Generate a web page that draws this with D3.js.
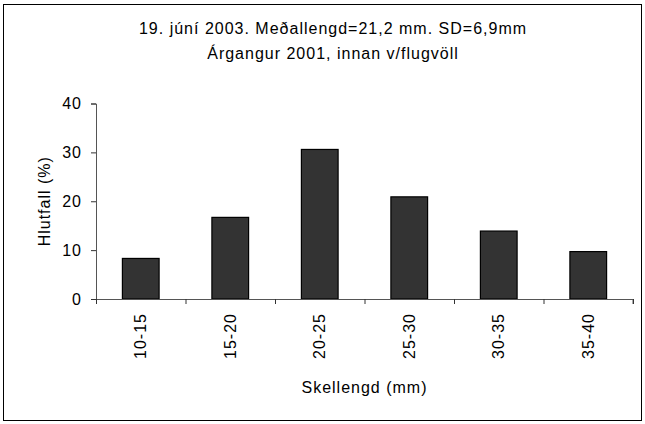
<!DOCTYPE html>
<html>
<head>
<meta charset="utf-8">
<script src="https://cdn.jsdelivr.net/npm/d3@7"></script>
<style>
  body { margin: 0; background: #fff; }
  text { font-family: "Liberation Sans", Arial, sans-serif; fill: #000; }
</style>
</head>
<body>
<div id="chart"></div>
<script>
(function () {
  'use strict';

  // data
  var categories = ['10-15', '15-20', '20-25', '25-30', '30-35', '35-40'];
  var values = [8.3, 16.7, 30.6, 20.9, 13.9, 9.7];
  var yTicks = [0, 10, 20, 30, 40];
  var titleLines = ['19. júní 2003. Meðallengd=21,2 mm. SD=6,9mm', 'Árgangur 2001, innan v/flugvöll'];
  var xTitle = 'Skellengd (mm)';
  var yTitle = 'Hlutfall (%)';

  var width = 645,
      height = 424,
      left = 96,
      right = 633,
      top = 103.5,
      bottom = 299,
      barShare = 0.41,
      fontSize = 16,
      spacing = 1;

  var svg = d3.select('#chart')
    .append('svg')
    .attr('width', width)
    .attr('height', height);

  // outer frame
  svg.append('rect')
    .attr('x', 3.5)
    .attr('y', 4.5)
    .attr('width', 638)
    .attr('height', 416)
    .attr('fill', 'none')
    .attr('stroke', '#000')
    .attr('stroke-width', 1);

  var x = d3.scaleBand()
    .domain(categories)
    .range([left, right])
    .padding(0);

  var y = d3.scaleLinear()
    .domain([0, 40])
    .range([bottom, top]);

  // title
  svg.selectAll('.title')
    .data(titleLines)
    .enter()
    .append('text')
    .attr('class', 'title')
    .attr('x', 333)
    .attr('y', function (d, i) { return 34 + i * 25; })
    .attr('text-anchor', 'middle')
    .style('font-size', fontSize + 'px')
    .style('letter-spacing', spacing + 'px')
    .text(function (d) { return d; });

  // bars
  svg.selectAll('.bar')
    .data(values)
    .enter()
    .append('rect')
    .attr('class', 'bar')
    .attr('x', function (d, i) { return x(categories[i]) + x.bandwidth() * (1 - barShare) / 2; })
    .attr('y', function (d) { return y(d); })
    .attr('width', x.bandwidth() * barShare)
    .attr('height', function (d) { return y(0) - y(d); })
    .attr('fill', '#333333')
    .attr('stroke', '#000')
    .attr('stroke-width', 1.2);

  // y axis
  var yAxis = svg.append('g')
    .attr('transform', 'translate(' + left + ',0)')
    .call(d3.axisLeft(y).tickValues(yTicks).tickSize(5).tickPadding(9));
  yAxis.select('.domain').attr('stroke', '#555');
  yAxis.selectAll('.tick line').attr('stroke', '#333');
  yAxis.selectAll('.tick text')
    .attr('font-family', null)
    .style('font-size', fontSize + 'px')
    .style('letter-spacing', spacing + 'px');

  // x axis: ticks sit on the band edges
  var xEdges = d3.scaleLinear().domain([0, categories.length]).range([left, right]);
  var xAxis = svg.append('g')
    .attr('transform', 'translate(0,' + bottom + ')')
    .call(d3.axisBottom(xEdges).tickValues(d3.range(categories.length + 1)).tickSize(5).tickFormat(''));
  xAxis.select('.domain').attr('stroke', '#555').attr('d', 'M' + left + ',0.5H' + right + 'V5');
  xAxis.selectAll('.tick line').attr('stroke', '#333');

  svg.append('g')
    .selectAll('text')
    .data(categories)
    .enter()
    .append('text')
    .attr('transform', function (d) {
      return 'translate(' + (x(d) + x.bandwidth() / 2) + ',' + (bottom + 14) + ') rotate(-90)';
    })
    .attr('dy', '0.35em')
    .attr('text-anchor', 'end')
    .style('font-size', fontSize + 'px')
    .style('letter-spacing', spacing + 'px')
    .text(function (d) { return d; });

  // axis titles
  svg.append('text')
    .attr('x', (left + right) / 2)
    .attr('y', 393)
    .attr('text-anchor', 'middle')
    .style('font-size', fontSize + 'px')
    .style('letter-spacing', spacing + 'px')
    .text(xTitle);

  svg.append('text')
    .attr('transform', 'translate(50,' + ((top + bottom) / 2) + ') rotate(-90)')
    .attr('text-anchor', 'middle')
    .style('font-size', fontSize + 'px')
    .style('letter-spacing', spacing + 'px')
    .text(yTitle);
}());
</script>
</body>
</html>
